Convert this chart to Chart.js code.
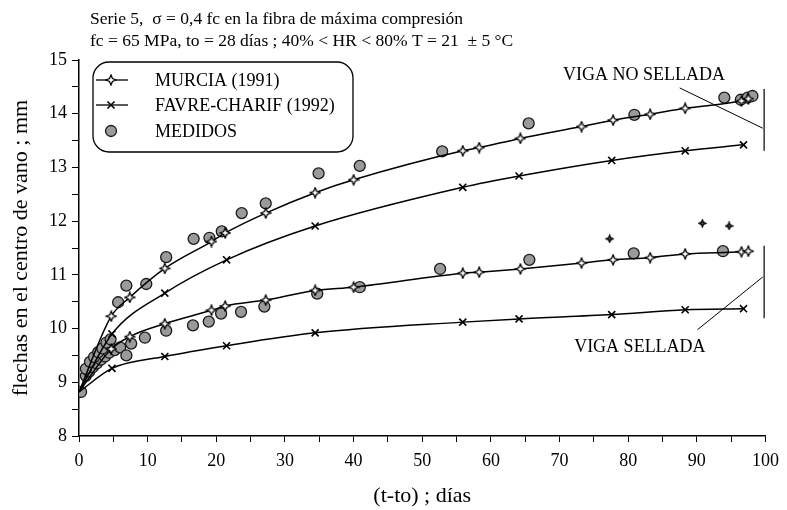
<!DOCTYPE html>
<html>
<head>
<meta charset="utf-8">
<script src="https://cdn.jsdelivr.net/npm/chart.js@4.4.0/dist/chart.umd.min.js"></script>
<style>
  html, body { margin: 0; background: #fff; }
  #wrap { width: 787px; height: 510px; }
</style>
</head>
<body>
<div id="wrap"><canvas id="myChart"></canvas></div>
<script>
"use strict";

// curvas teóricas (días, flecha mm)
const murciaDays      = [0, 4.7, 7.4, 12.5, 19.3, 21.3, 27.2, 34.4, 40.0, 55.9, 58.3, 64.3, 73.2, 77.8, 83.2, 88.3, 96.5, 97.5];
const murciaNoSellada = [8.82, 10.23, 10.58, 11.12, 11.62, 11.78, 12.15, 12.53, 12.77, 13.31, 13.37, 13.54, 13.76, 13.88, 13.99, 14.10, 14.24, 14.28];
const murciaSellada   = [8.82, 9.62, 9.85, 10.09, 10.34, 10.42, 10.53, 10.71, 10.77, 11.03, 11.05, 11.11, 11.22, 11.28, 11.32, 11.39, 11.43, 11.44];

const favreDays       = [0, 4.8, 12.5, 21.5, 34.4, 55.9, 64.1, 77.6, 88.3, 96.8];
const favreNoSellada  = [8.82, 9.90, 10.66, 11.28, 11.91, 12.63, 12.84, 13.13, 13.31, 13.42];
const favreSellada    = [8.82, 9.26, 9.48, 9.68, 9.92, 10.12, 10.18, 10.26, 10.35, 10.37];

// medidos
const medNoSellDays = [0.3, 1.0, 1.6, 2.2, 2.8, 3.4, 4.0, 4.6, 5.7, 6.9, 9.8, 12.7, 16.7, 19.0, 20.8, 23.7, 27.2, 34.9, 40.9, 52.9, 65.5, 80.9, 94.0, 96.4, 97.4, 98.1];
const medNoSellVals = [8.82, 9.25, 9.38, 9.47, 9.56, 9.63, 9.74, 9.80, 10.49, 10.80, 10.83, 11.33, 11.67, 11.69, 11.81, 12.15, 12.33, 12.89, 13.03, 13.30, 13.82, 13.98, 14.30, 14.26, 14.30, 14.33];
const medSellDays   = [1.0, 1.5, 2.0, 2.6, 3.2, 3.8, 4.4, 5.2, 6.0, 6.9, 7.6, 9.6, 12.7, 16.6, 18.9, 20.7, 23.6, 27.0, 34.7, 40.9, 52.6, 65.6, 80.8, 93.8];
const medSellVals   = [9.12, 9.20, 9.28, 9.35, 9.42, 9.48, 9.55, 9.60, 9.65, 9.50, 9.72, 9.83, 9.96, 10.06, 10.13, 10.28, 10.31, 10.41, 10.65, 10.77, 11.11, 11.28, 11.40, 11.44];
const medSueltosDays = [77.3, 90.8, 94.7];
const medSueltosVals = [11.67, 11.96, 11.91];

// anotaciones (en unidades de los ejes)
const noSelladaBar   = [[99.8, 14.46], [99.8, 13.31]];
const noSelladaArrow = [[87.5, 14.48], [99.6, 13.73]];
const selladaBar     = [[99.8, 11.54], [99.8, 10.19]];
const selladaArrow   = [[90.1, 9.98], [99.6, 10.96]];

const toXY = (xs, ys) => xs.map((x, i) => ({ x: x, y: ys[i] }));

function makeStar(size, fill) {
  const c = document.createElement('canvas');
  c.width = c.height = size;
  const g = c.getContext('2d');
  const m = size / 2, r = size / 2 - 1, ri = r * 0.42;
  g.beginPath();
  for (let i = 0; i < 8; i++) {
    const a = i * Math.PI / 4 - Math.PI / 2;
    const rr = i % 2 ? ri : r;
    g.lineTo(m + rr * Math.cos(a), m + rr * Math.sin(a));
  }
  g.closePath();
  g.fillStyle = fill;
  g.fill();
  g.lineWidth = 1.3;
  g.strokeStyle = '#000';
  g.stroke();
  return c;
}
const starMark = makeStar(12, '#fff');
const smallStar = makeStar(9, '#555');

const SERIF = '"Liberation Serif", "DejaVu Serif", serif';

const lineBase = {
  showLine: true,
  borderColor: '#000',
  borderWidth: 1.5,
  tension: 0.4,
  cubicInterpolationMode: 'monotone',
  pointBorderColor: '#000',
  pointBackgroundColor: '#fff',
  pointBorderWidth: 1.6,
  pointRadius: (ctx) => ctx.dataIndex === 0 ? 0 : 5
};
const medBase = {
  showLine: false,
  pointStyle: 'circle',
  pointRadius: 5.5,
  pointBackgroundColor: '#9a9a9a',
  pointBorderColor: '#1a1a1a',
  pointBorderWidth: 1.3
};

const datasets = [
  Object.assign({ label: 'MURCIA (1991)', data: toXY(murciaDays, murciaNoSellada), pointStyle: starMark }, lineBase),
  Object.assign({ label: 'MURCIA (1991)', data: toXY(murciaDays, murciaSellada), pointStyle: starMark }, lineBase),
  Object.assign({ label: 'FAVRE-CHARIF (1992)', data: toXY(favreDays, favreNoSellada), pointStyle: 'crossRot' }, lineBase),
  Object.assign({ label: 'FAVRE-CHARIF (1992)', data: toXY(favreDays, favreSellada), pointStyle: 'crossRot' }, lineBase),
  Object.assign({ label: 'MEDIDOS', data: toXY(medNoSellDays, medNoSellVals) }, medBase),
  Object.assign({ label: 'MEDIDOS', data: toXY(medSellDays, medSellVals) }, medBase),
  { label: 'MEDIDOS', data: toXY(medSueltosDays, medSueltosVals), showLine: false, pointStyle: smallStar, pointRadius: 4 }
];

const extras = {
  id: 'extras',
  afterDraw(chart) {
    const ctx = chart.ctx;
    const xs = chart.scales.x, ys = chart.scales.y;
    const px = (p) => [xs.getPixelForValue(p[0]), ys.getPixelForValue(p[1])];
    ctx.save();

    // title
    ctx.fillStyle = '#000';
    ctx.font = '17.5px ' + SERIF;
    ctx.textAlign = 'left';
    ctx.textBaseline = 'alphabetic';
    ctx.fillText('Serie 5,  \u03c3 = 0,4 fc en la fibra de máxima compresión', 90, 24);
    ctx.fillText('fc = 65 MPa, to = 28 días ; 40% < HR < 80% T = 21  \u00b1 5 \u00b0C', 90, 46);

    // pointers and bars
    const seg = (a, b, w) => {
      const p = px(a), q = px(b);
      ctx.beginPath();
      ctx.lineWidth = w;
      ctx.strokeStyle = '#000';
      ctx.moveTo(p[0], p[1]);
      ctx.lineTo(q[0], q[1]);
      ctx.stroke();
    };
    seg(noSelladaArrow[0], noSelladaArrow[1], 1);
    seg(selladaArrow[0], selladaArrow[1], 1);
    seg(noSelladaBar[0], noSelladaBar[1], 1.2);
    seg(selladaBar[0], selladaBar[1], 1.2);

    ctx.font = '18px ' + SERIF;
    ctx.textAlign = 'center';
    ctx.fillText('VIGA NO SELLADA', xs.getPixelForValue(82.3), ys.getPixelForValue(14.62));
    ctx.fillText('VIGA SELLADA', xs.getPixelForValue(81.7), ys.getPixelForValue(9.56));

    // legend box
    const bx = 93, by = 62, bw = 260, bh = 90, r = 16;
    ctx.beginPath();
    ctx.lineWidth = 1.3;
    ctx.moveTo(bx + r, by);
    ctx.arcTo(bx + bw, by, bx + bw, by + bh, r);
    ctx.arcTo(bx + bw, by + bh, bx, by + bh, r);
    ctx.arcTo(bx, by + bh, bx, by, r);
    ctx.arcTo(bx, by, bx + bw, by, r);
    ctx.closePath();
    ctx.stroke();

    const rows = [
      { text: 'MURCIA (1991)', ds: 0, line: true, y: 80 },
      { text: 'FAVRE-CHARIF (1992)', ds: 2, line: true, y: 105 },
      { text: 'MEDIDOS', ds: 4, line: false, y: 131 }
    ];
    ctx.textAlign = 'left';
    ctx.textBaseline = 'middle';
    rows.forEach(row => {
      const mx = 111;
      if (row.line) {
        ctx.beginPath();
        ctx.lineWidth = 1.3;
        ctx.strokeStyle = '#000';
        ctx.moveTo(96, row.y);
        ctx.lineTo(128, row.y);
        ctx.stroke();
      }
      const el = chart.getDatasetMeta(row.ds).data[1];
      if (el) {
        const o = el.options;
        ctx.save();
        ctx.fillStyle = o.backgroundColor;
        ctx.strokeStyle = o.borderColor;
        ctx.lineWidth = o.borderWidth;
        Chart.helpers.drawPoint(ctx, o, mx, row.y);
        ctx.restore();
      }
      ctx.fillStyle = '#000';
      ctx.fillText(row.text, 155, row.y + 1);
    });

    ctx.restore();
  }
};

const ctx = document.getElementById('myChart').getContext('2d');
const myChart = new Chart(ctx, {
  type: 'scatter',
  data: { datasets: datasets },
  options: {
    responsive: true,
    maintainAspectRatio: false,
    animation: false,
    layout: { padding: { top: 60, right: 19, left: 0, bottom: 0 } },
    plugins: {
      legend: { display: false },
      tooltip: { enabled: false }
    },
    scales: {
      x: {
        type: 'linear',
        min: 0,
        max: 100,
        afterFit: (s) => { s.height = 74; },
        ticks: {
          stepSize: 5,
          autoSkip: false,
          maxRotation: 0,
          padding: 8,
          color: '#000',
          font: { family: SERIF, size: 18 },
          callback: (v) => v % 10 === 0 ? v : ''
        },
        grid: { drawOnChartArea: false, color: '#000', tickLength: 6 },
        border: { color: '#000', width: 1.5 },
        title: {
          display: true,
          text: '(t-to) ; días',
          color: '#000',
          font: { family: SERIF, size: 22 },
          padding: { top: 0, bottom: 1 }
        }
      },
      y: {
        min: 8,
        max: 15,
        afterFit: (s) => { s.width = 79; },
        ticks: {
          stepSize: 0.5,
          autoSkip: false,
          padding: 5,
          color: '#000',
          font: { family: SERIF, size: 18 },
          callback: (v) => Number.isInteger(v) ? v : ''
        },
        grid: { drawOnChartArea: false, color: '#000', tickLength: 7 },
        border: { color: '#000', width: 1.5 },
        title: {
          display: true,
          text: 'flechas en el centro de vano ; mm',
          color: '#000',
          font: { family: SERIF, size: 22 },
          padding: { top: 8, bottom: 0 }
        }
      }
    }
  },
  plugins: [extras]
});
</script>
</body>
</html>
